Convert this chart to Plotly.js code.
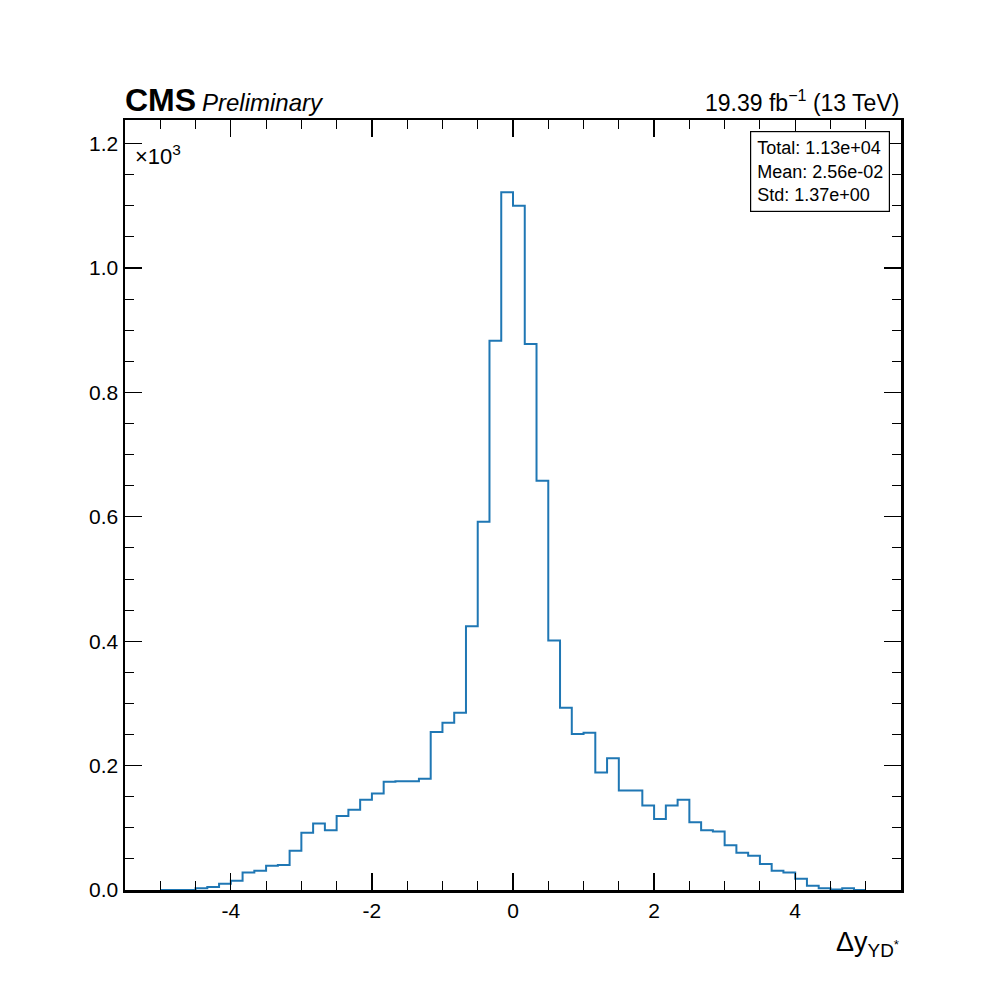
<!DOCTYPE html>
<html>
<head>
<meta charset="utf-8">
<script src="https://cdn.plot.ly/plotly-3.0.1.min.js"></script>
<style>body{margin:0;background:#fff}</style>
</head>
<body>
<div id="plot" style="width:1000px;height:1000px"></div>
<script>
// histogram settings: 60 bins from -5 to 5
const binLow = -5;
const binWidth = 1 / 6;
// counts per bin, left to right
const counts = [
    0, 0, 0, 3, 5, 10, 15, 28, 31, 39,
    40, 63, 92, 107, 96, 119, 129, 145, 155, 174,
    175, 175, 179, 254, 269, 285, 424, 592, 883, 1122,
    1100, 878, 658, 401, 293, 251, 253, 189, 212, 160,
    160, 136, 114, 136, 145, 109, 96, 94, 72, 60,
    55, 42, 31, 28, 18, 7, 3, 1, 3, 0
];
const xTickVals = [-4, -2, 0, 2, 4];
const xTickText = ["-4", "-2", "0", "2", "4"];
const statLines = ["Total: 1.13e+04", "Mean: 2.56e-02", "Std: 1.37e+00"];

const edges = counts.map((c, i) => binLow + i * binWidth);
edges.push(binLow + counts.length * binWidth);
const ys = counts.map(c => c / 1000);
ys.push(ys[ys.length - 1]);

const font = "Liberation Sans, Arial, sans-serif";
const trace = {
    x: edges, y: ys, type: "scatter", mode: "lines",
    line: {shape: "hv", color: "#1f77b4", width: 2},
    hoverinfo: "skip"
};

const axisCommon = {
    showgrid: false, zeroline: false, showline: true, mirror: "ticks",
    linecolor: "#000", linewidth: 2.5,
    ticks: "inside", ticklen: 17, tickwidth: 1.2, tickcolor: "#000",
    tickfont: {family: font, size: 21, color: "#000"}
};

const layout = {
    width: 1000, height: 1000,
    paper_bgcolor: "#fff", plot_bgcolor: "#fff",
    showlegend: false,
    margin: {l: 125, r: 99, t: 120, b: 110, pad: 0},
    xaxis: Object.assign({}, axisCommon, {
        range: [-5.5, 5.5], tickvals: xTickVals, ticktext: xTickText,
        minor: {dtick: 0.5, tick0: 0, ticklen: 9, tickwidth: 1, tickcolor: "#000", ticks: "inside"}
    }),
    yaxis: Object.assign({}, axisCommon, {
        range: [0, 1.238], dtick: 0.2, tickformat: ".1f",
        minor: {dtick: 0.05, ticklen: 9, tickwidth: 1, tickcolor: "#000", ticks: "inside"}
    }),
    annotations: [
        {xref: "paper", yref: "paper", x: -0.003, y: 1.0, xanchor: "left", yanchor: "bottom",
         text: "<b>CMS</b>", showarrow: false, font: {family: font, size: 32, color: "#000"}},
        {xref: "paper", yref: "paper", x: 0.097, y: 1.002, xanchor: "left", yanchor: "bottom",
         text: "<i>Preliminary</i>", showarrow: false, font: {family: font, size: 24, color: "#000"}},
        {xref: "paper", yref: "paper", x: 1, y: 1.002, xanchor: "right", yanchor: "bottom",
         text: "19.39 fb<sup>−1</sup> (13 TeV)", showarrow: false, font: {family: font, size: 23, color: "#000"}},
        {xref: "paper", yref: "paper", x: 0.01, y: 0.975, xanchor: "left", yanchor: "top",
         text: "×10<sup>3</sup>", showarrow: false, font: {family: font, size: 22, color: "#000"}},
        {xref: "paper", yref: "paper", x: 1, y: -0.045, xanchor: "right", yanchor: "top",
         text: "Δy<sub>YD<sup>*</sup></sub>", showarrow: false, font: {family: font, size: 27, color: "#000"}},
        {xref: "paper", yref: "paper", x: 0.986, y: 0.986, xanchor: "right", yanchor: "top", align: "left",
         text: statLines.join("<br>"), showarrow: false, bordercolor: "#000", borderwidth: 1.2,
         borderpad: 6, bgcolor: "#fff", font: {family: font, size: 18, color: "#000"}}
    ]
};

Plotly.newPlot("plot", [trace], layout, {staticPlot: true});
</script>
</body>
</html>
